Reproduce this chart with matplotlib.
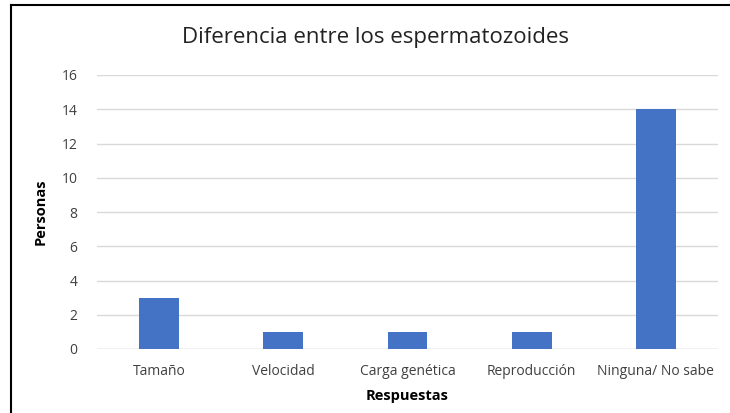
import matplotlib.pyplot as plt
from matplotlib.lines import Line2D

# datos
respuestas = ['Tamaño', 'Velocidad', 'Carga genética', 'Reproducción', 'Ninguna/ No sabe']
personas = [3, 1, 1, 1, 14]
yticks = [0, 2, 4, 6, 8, 10, 12, 14, 16]

plt.rcParams['font.family'] = ['Open Sans', 'DejaVu Sans']

fig = plt.figure(figsize=(7.3, 4.13), dpi=100)
ax = fig.add_axes([97/730, 1 - 349/413, 621/730, 274/413])

x = range(len(respuestas))
ax.bar(x, personas, width=0.32, color='#4472C4', zorder=3)
ax.set_xlim(-0.5, len(respuestas) - 0.5)
ax.set_ylim(0, 16)
ax.set_yticks(yticks)
ax.set_xticks(list(x))
ax.set_xticklabels(respuestas)
ax.grid(axis='y', color='#d9d9d9', linewidth=1, zorder=0)
for s in ax.spines.values():
    s.set_visible(False)
ax.axhline(0, color='#d9d9d9', linewidth=1, zorder=2)
ax.tick_params(length=0, labelsize=10, colors='#404040')
ax.tick_params(axis='x', pad=11)
ax.tick_params(axis='y', pad=14)

ax.set_xlabel('Respuestas', fontsize=10.5, fontweight='bold', labelpad=7)
ax.set_ylabel('Personas', fontsize=10.5, fontweight='bold', labelpad=10)
fig.text(0.515, 1 - 37/413, 'Diferencia entre los espermatozoides', fontsize=16,
         ha='center', va='center', color='#222222')

# marco del gráfico
fig.add_artist(Line2D([11/730, 11/730], [0, 1 - 5/413], color='black', linewidth=1.5))
fig.add_artist(Line2D([11/730, 1], [1 - 5/413, 1 - 5/413], color='black', linewidth=1.5))

fig.savefig('out.png')
